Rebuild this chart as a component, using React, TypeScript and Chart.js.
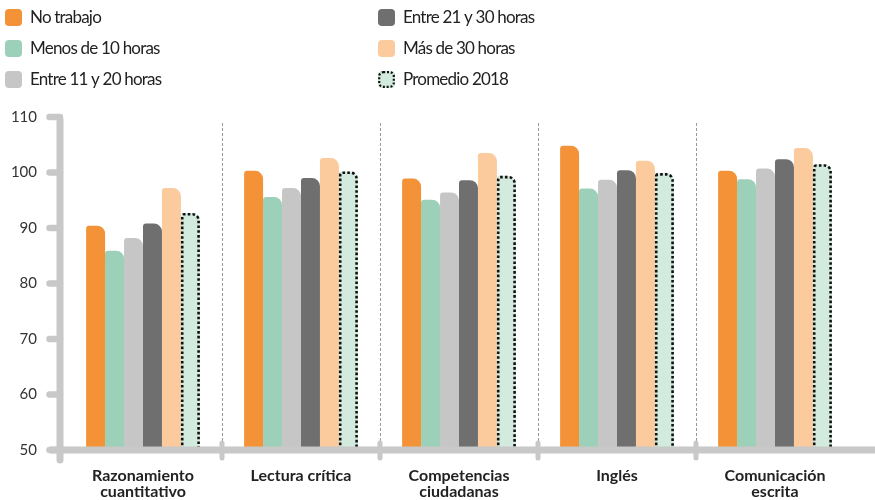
import React, { useEffect, useRef } from "react";
import { Chart, registerables } from "chart.js";

Chart.register(...registerables);

const categories: (string | string[])[] = [
  ["Razonamiento", "cuantitativo"],
  "Lectura crítica",
  ["Competencias", "ciudadanas"],
  "Inglés",
  ["Comunicación", "escrita"],
];

const seriesLabels = [
  "No trabajo",
  "Menos de 10 horas",
  "Entre 11 y 20 horas",
  "Entre 21 y 30 horas",
  "Más de 30 horas",
  "Promedio 2018",
];

const noTrabaja = [90.4, 100.3, 98.9, 104.8, 100.3];
const menos10 = [85.9, 95.6, 95.1, 97.1, 98.8];
const entre11y20 = [88.2, 97.2, 96.4, 98.7, 100.7];
const entre21y30 = [90.8, 99.0, 98.6, 100.4, 102.4];
const mas30 = [97.2, 102.6, 103.5, 102.1, 104.4];
const promedio2018 = [92.7, 100.2, 99.4, 99.9, 101.5];

const yMin = 50;
const yMax = 110;
const yStep = 10;

const colors = ["#F39237", "#9DD0B9", "#C6C6C6", "#6F6F6F", "#FBCB9D", "#D3EBDF"];

const FONT = "Lato, 'Noto Sans', sans-serif";
const AXIS_GRAY = "#C8C8C8";

function roundRectPath(ctx: CanvasRenderingContext2D, x: number, y: number, w: number, h: number, r: number) {
  ctx.beginPath();
  ctx.moveTo(x + r, y);
  ctx.lineTo(x + w - r, y);
  ctx.arcTo(x + w, y, x + w, y + r, r);
  ctx.lineTo(x + w, y + h - r);
  ctx.arcTo(x + w, y + h, x + w - r, y + h, r);
  ctx.lineTo(x + r, y + h);
  ctx.arcTo(x, y + h, x, y + h - r, r);
  ctx.lineTo(x, y + r);
  ctx.arcTo(x, y, x + r, y, r);
  ctx.closePath();
}

const decorPlugin = {
  id: "decor",
  beforeDatasetsDraw(chart: any) {
    const ctx: CanvasRenderingContext2D = chart.ctx;
    const xs = chart.scales.x;
    const area = chart.chartArea;
    ctx.save();
    ctx.strokeStyle = "#9A9A9A";
    ctx.lineWidth = 1;
    ctx.setLineDash([3, 2]);
    for (let i = 0; i < categories.length - 1; i++) {
      const bx = Math.round((xs.getPixelForValue(i) + xs.getPixelForValue(i + 1)) / 2) + 0.5;
      ctx.beginPath();
      ctx.moveTo(bx, area.top + 6);
      ctx.lineTo(bx, area.bottom - 6);
      ctx.stroke();
    }
    ctx.restore();
  },
  afterDatasetsDraw(chart: any) {
    const ctx: CanvasRenderingContext2D = chart.ctx;
    const xs = chart.scales.x;
    const ys = chart.scales.y;
    const area = chart.chartArea;

    // dotted outline for promedio bars
    const meta = chart.getDatasetMeta(5);
    ctx.save();
    ctx.strokeStyle = "#111";
    ctx.lineWidth = 2.6;
    ctx.setLineDash([2.6, 2.2]);
    meta.data.forEach((bar: any) => {
      const p = bar.getProps(["x", "y", "width"], true);
      const inset = 1.3;
      const l = p.x - p.width / 2 + inset;
      const r = p.x + p.width / 2 - inset;
      const t = p.y + inset;
      const b = area.bottom;
      const rl = 2;
      const rr = 6;
      ctx.beginPath();
      ctx.moveTo(l, b);
      ctx.lineTo(l, t + rl);
      ctx.arcTo(l, t, l + rl, t, rl);
      ctx.lineTo(r - rr, t);
      ctx.arcTo(r, t, r, t + rr, rr);
      ctx.lineTo(r, b);
      ctx.lineTo(l, b);
      ctx.stroke();
    });
    ctx.restore();

    ctx.save();
    ctx.strokeStyle = AXIS_GRAY;
    ctx.lineCap = "round";
    // y tick stubs
    ctx.lineWidth = 6.5;
    for (let v = yMin; v <= yMax; v += yStep) {
      const py = ys.getPixelForValue(v);
      ctx.beginPath();
      ctx.moveTo(49.5, py);
      ctx.lineTo(area.left - 4, py);
      ctx.stroke();
    }
    // y axis line
    ctx.lineWidth = 7;
    ctx.beginPath();
    ctx.moveTo(area.left - 4, area.top + 3);
    ctx.lineTo(area.left - 4, area.bottom + 10);
    ctx.stroke();
    // x axis line
    ctx.lineCap = "butt";
    ctx.beginPath();
    ctx.moveTo(50, area.bottom);
    ctx.lineTo(chart.width, area.bottom);
    ctx.stroke();
    // separator stubs
    ctx.lineCap = "round";
    ctx.lineWidth = 5;
    for (let i = 0; i < categories.length - 1; i++) {
      const bx = (xs.getPixelForValue(i) + xs.getPixelForValue(i + 1)) / 2;
      ctx.beginPath();
      ctx.moveTo(bx, area.bottom - 7);
      ctx.lineTo(bx, area.bottom + 8);
      ctx.stroke();
    }
    ctx.restore();
  },
  afterDraw(chart: any) {
    const ctx: CanvasRenderingContext2D = chart.ctx;
    const colX = [5, 378];
    const rowY = [9, 40, 71];
    ctx.save();
    ctx.font = `17px ${FONT}`;
    (ctx as any).letterSpacing = "-0.8px";
    ctx.textBaseline = "middle";
    ctx.textAlign = "left";
    seriesLabels.forEach((label, i) => {
      const x = colX[Math.floor(i / 3)];
      const y = rowY[i % 3];
      roundRectPath(ctx, x, y, 17, 17, 4);
      ctx.fillStyle = colors[i];
      ctx.fill();
      if (i === 5) {
        roundRectPath(ctx, x + 1.2, y + 1.2, 14.6, 14.6, 4);
        ctx.strokeStyle = "#111";
        ctx.lineWidth = 2.2;
        ctx.setLineDash([2, 1.8]);
        ctx.stroke();
        ctx.setLineDash([]);
      }
      ctx.fillStyle = "#222";
      ctx.fillText(label, x + 25, y + 9);
    });
    ctx.restore();
  },
};

export default function App() {
  const ref = useRef<HTMLCanvasElement | null>(null);
  useEffect(() => {
    document.body.style.margin = "0";
    const canvas = ref.current!;
    const series = [noTrabaja, menos10, entre11y20, entre21y30, mas30, promedio2018];
    const chart = new Chart(canvas, {
      type: "bar",
      data: {
        labels: categories,
        datasets: series.map((d, i) => ({
          label: seriesLabels[i],
          data: d,
          backgroundColor: colors[i],
          borderWidth: 0,
          borderRadius: { topLeft: 3, topRight: 8, bottomLeft: 0, bottomRight: 0 },
          borderSkipped: "start",
          barPercentage: 1,
          categoryPercentage: 0.72,
        })),
      },
      options: {
        responsive: false,
        animation: false,
        devicePixelRatio: 1,
        layout: { padding: { top: 117, right: 21, left: 0, bottom: 0 } },
        plugins: { legend: { display: false }, tooltip: { enabled: false } },
        scales: {
          x: {
            grid: { display: false, drawTicks: false },
            border: { display: false },
            ticks: {
              font: { family: FONT, size: 16, weight: "bold", lineHeight: 1.05 },
              color: "#222",
              padding: 17,
              maxRotation: 0,
              autoSkip: false,
            },
            afterFit: (s: any) => {
              s.height = 50;
            },
          },
          y: {
            min: yMin,
            max: yMax,
            grid: { display: false, drawTicks: false },
            border: { display: false },
            ticks: {
              stepSize: yStep,
              font: { family: FONT, size: 15 },
              color: "#333",
              padding: 27,
            },
            afterFit: (s: any) => {
              s.width = 64;
            },
          },
        },
      },
      plugins: [decorPlugin],
    });
    return () => chart.destroy();
  }, []);
  return <canvas ref={ref} width={875} height={500} style={{ display: "block" }} />;
}
